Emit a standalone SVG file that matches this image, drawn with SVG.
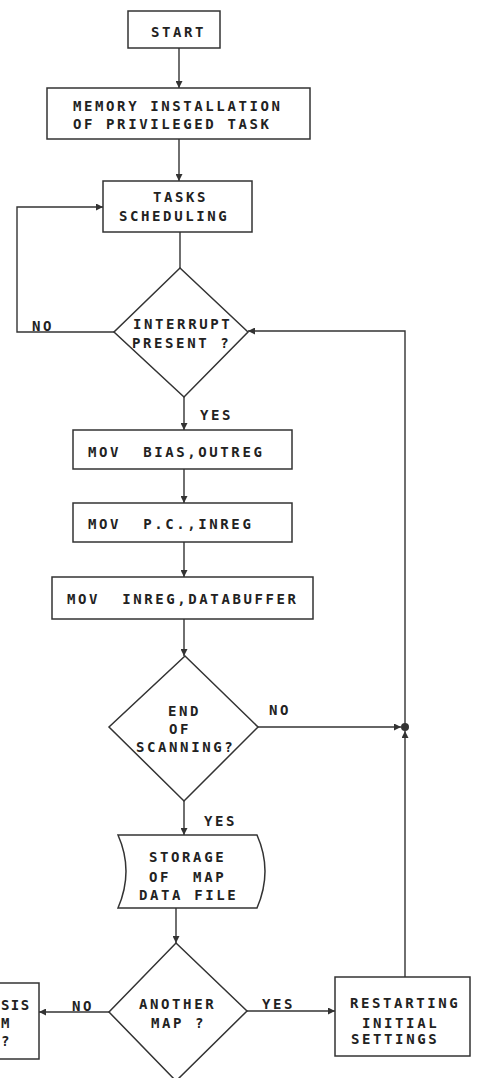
<svg xmlns="http://www.w3.org/2000/svg" width="479" height="1078" viewBox="0 0 479 1078">
<style>
.n{fill:#fff;stroke:#333;stroke-width:1.5}
.c{fill:none;stroke:#333;stroke-width:1.4}
text{font-family:"DejaVu Sans Mono","Liberation Mono",monospace;font-size:14px;font-weight:bold;fill:#222;letter-spacing:2.6px}
</style>
<defs>
<marker id="ah" viewBox="0 0 10 10" refX="10" refY="5" markerWidth="7" markerHeight="7" markerUnits="userSpaceOnUse" orient="auto">
<path d="M0,0 L10,5 L0,10 Z" fill="#333"/>
</marker>
</defs>
<rect width="479" height="1078" fill="#fff"/>
<g id="connectors">
<path class="c" d="M179,48 V88" marker-end="url(#ah)"/>
<path class="c" d="M179,139 V181" marker-end="url(#ah)"/>
<path class="c" d="M180,232 V268"/>
<path class="c" d="M114,332 H17 V207 H103" marker-end="url(#ah)"/>
<path class="c" d="M184,397 V430" marker-end="url(#ah)"/>
<path class="c" d="M184,469 V503" marker-end="url(#ah)"/>
<path class="c" d="M184,542 V577" marker-end="url(#ah)"/>
<path class="c" d="M184,619 V656" marker-end="url(#ah)"/>
<path class="c" d="M258,727 H401" marker-end="url(#ah)"/>
<path class="c" d="M405,977 V731" marker-end="url(#ah)"/>
<path class="c" d="M405,727 V331 H248" marker-end="url(#ah)"/>
<circle cx="405" cy="727" r="4" fill="#333"/>
<path class="c" d="M184,801 V835" marker-end="url(#ah)"/>
<path class="c" d="M176,908 V943" marker-end="url(#ah)"/>
<path class="c" d="M109,1012 H39" marker-end="url(#ah)"/>
<path class="c" d="M247,1011 H335" marker-end="url(#ah)"/>
<text x="32" y="331">NO</text>
<text x="200" y="420">YES</text>
<text x="269" y="715">NO</text>
<text x="204" y="826">YES</text>
<text x="72" y="1011">NO</text>
<text x="262" y="1009">YES</text>
</g>
<g id="start">
<rect class="n" x="128" y="11" width="92" height="37"/>
<text x="151" y="37">START</text>
</g>
<g id="memory">
<rect class="n" x="47" y="88" width="263" height="51"/>
<text x="73" y="111">MEMORY INSTALLATION</text>
<text x="73" y="129">OF PRIVILEGED TASK</text>
</g>
<g id="tasks">
<rect class="n" x="103" y="181" width="149" height="51"/>
<text x="153" y="202">TASKS</text>
<text x="119" y="221">SCHEDULING</text>
</g>
<g id="interrupt">
<polygon class="n" points="180,268 248,332 184,397 114,332"/>
<text x="133" y="329">INTERRUPT</text>
<text x="132" y="348">PRESENT ?</text>
</g>
<g id="mov1">
<rect class="n" x="73" y="430" width="219" height="39"/>
<text x="88" y="457" xml:space="preserve">MOV  BIAS,OUTREG</text>
</g>
<g id="mov2">
<rect class="n" x="73" y="503" width="219" height="39"/>
<text x="88" y="529" xml:space="preserve">MOV  P.C.,INREG</text>
</g>
<g id="mov3">
<rect class="n" x="52" y="577" width="261" height="42"/>
<text x="67" y="604" xml:space="preserve">MOV  INREG,DATABUFFER</text>
</g>
<g id="endscan">
<polygon class="n" points="185,656 258,727 184,801 109,727"/>
<text x="168" y="716">END</text>
<text x="169" y="734">OF</text>
<text x="136" y="752">SCANNING?</text>
</g>
<g id="storage">
<path class="n" d="M118,835 L257,835 Q273,871 257,908 L118,908 Q134,871 118,835 Z"/>
<text x="149" y="862">STORAGE</text>
<text x="149" y="882" xml:space="preserve">OF  MAP</text>
<text x="139" y="900">DATA FILE</text>
</g>
<g id="another">
<polygon class="n" points="176,943 247,1011 176,1081 109,1012"/>
<text x="139" y="1009">ANOTHER</text>
<text x="151" y="1028">MAP ?</text>
</g>
<g id="analysis">
<rect class="n" x="-5" y="983" width="44" height="76"/>
<text x="1" y="1010" style="letter-spacing:1.4px">SIS</text>
<text x="1" y="1028">M</text>
<text x="1" y="1046">?</text>
</g>
<g id="restart">
<rect class="n" x="335" y="977" width="135" height="79"/>
<text x="350" y="1008">RESTARTING</text>
<text x="362" y="1028">INITIAL</text>
<text x="351" y="1044">SETTINGS</text>
</g>
</svg>
